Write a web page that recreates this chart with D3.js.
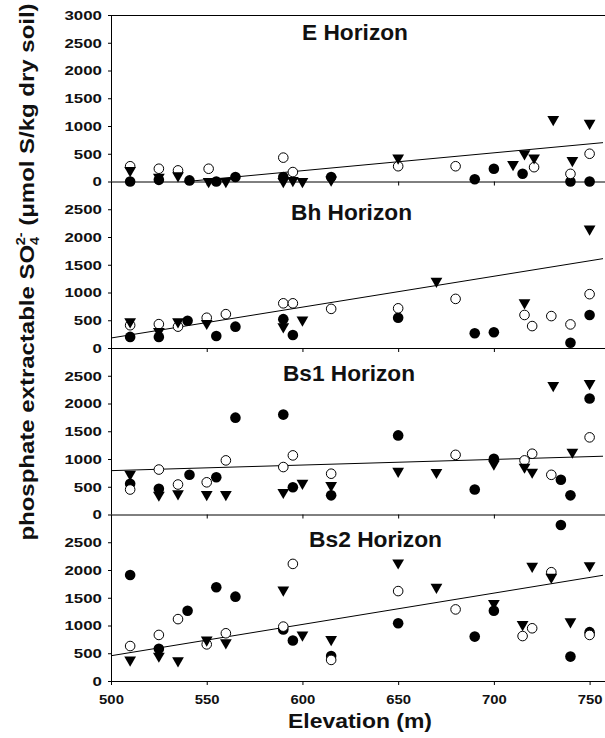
<!DOCTYPE html>
<html>
<head>
<meta charset="utf-8">
<script src="https://cdn.jsdelivr.net/npm/d3@7"></script>
<style>
    body { margin: 0; background: #fff; }
    svg { display: block; font-family: 'Liberation Sans', Arial, sans-serif; }
</style>
</head>
<body>
<div class="container"></div>
<script>
const horizons = ['E Horizon', 'Bh Horizon', 'Bs1 Horizon', 'Bs2 Horizon'];
const xTicks = [500, 550, 600, 650, 700, 750];
const yTicksTop = [0, 500, 1000, 1500, 2000, 2500, 3000];
const yTicks = [0, 500, 1000, 1500, 2000, 2500];

// [elevation m, SO4 umol S/kg]
const eFilled = [[510, 0], [525, 30], [541, 20], [555, 0], [565, 80], [590, 80], [615, 80], [690, 40], [700, 230], [715, 140], [740, 0], [750, 0]];
const eOpen = [[510, 275], [525, 230], [535, 200], [551, 230], [590, 430], [595, 170], [650, 275], [680, 275], [721, 258], [740, 138], [750, 500]];
const eTri = [[510, 200], [525, 80], [535, 105], [551, 0], [560, 0], [590, 0], [595, 20], [600, 0], [615, 30], [650, 425], [710, 306], [716, 500], [721, 427], [731, 1117], [741, 380], [750, 1050]];

const bhFilled = [[510, 200], [525, 200], [540, 490], [555, 215], [565, 385], [590, 520], [595, 235], [650, 545], [690, 265], [700, 285], [740, 95], [750, 595]];
const bhOpen = [[510, 410], [525, 430], [535, 385], [550, 545], [560, 610], [590, 805], [595, 805], [615, 705], [650, 715], [680, 885], [716, 595], [720, 395], [730, 575], [740, 425], [750, 970]];
const bhTri = [[510, 475], [525, 300], [535, 475], [550, 445], [590, 385], [600, 505], [670, 1205], [716, 815], [750, 2145]];

const bs1Filled = [[510, 555], [525, 465], [541, 715], [555, 670], [565, 1745], [590, 1800], [595, 490], [615, 345], [650, 1425], [690, 450], [700, 1005], [735, 625], [740, 345], [750, 2090]];
const bs1Open = [[510, 450], [525, 810], [535, 540], [550, 580], [560, 975], [590, 855], [595, 1065], [615, 735], [680, 1075], [716, 975], [720, 1095], [730, 715], [750, 1390]];
const bs1Tri = [[510, 725], [525, 350], [535, 375], [550, 360], [560, 360], [590, 400], [600, 565], [615, 525], [650, 780], [670, 760], [700, 910], [716, 855], [720, 765], [731, 2325], [741, 1125], [750, 2360]];

const bs2Filled = [[510, 1910], [525, 580], [540, 1265], [555, 1690], [565, 1520], [590, 930], [595, 730], [615, 450], [650, 1040], [690, 800], [700, 1265], [735, 2810], [740, 440], [750, 880]];
const bs2Open = [[510, 630], [525, 830], [535, 1115], [550, 660], [560, 860], [590, 980], [595, 2110], [615, 380], [650, 1620], [680, 1290], [715, 810], [720, 950], [730, 1960], [750, 830]];
const bs2Tri = [[510, 380], [525, 450], [535, 365], [550, 740], [560, 690], [590, 1640], [600, 830], [615, 750], [650, 2130], [670, 1690], [700, 1400], [715, 1020], [720, 2070], [730, 1870], [740, 1070], [750, 2080]];

// regression lines, end points
const eFit = [[500, -127], [757, 700]];
const bhFit = [[500, 180], [757, 1610]];
const bs1Fit = [[500, 790], [757, 1050]];
const bs2Fit = [[500, 455], [757, 1905]];

const w = 605;
const h = 738;
const left = 111;
const right = 603;
const panelTop = 15;
const panelH = 166.5;

// where each panel title sits (left x, baseline offset from panel top, width)
const titlePos = [[302, 25, 106], [291, 38, 121], [283, 33, 132], [309, 32, 133]];

const panels = [
    { title: horizons[0], filled: eFilled, open: eOpen, tri: eTri, fit: eFit, ticks: yTicksTop },
    { title: horizons[1], filled: bhFilled, open: bhOpen, tri: bhTri, fit: bhFit, ticks: yTicks },
    { title: horizons[2], filled: bs1Filled, open: bs1Open, tri: bs1Tri, fit: bs1Fit, ticks: yTicks },
    { title: horizons[3], filled: bs2Filled, open: bs2Open, tri: bs2Tri, fit: bs2Fit, ticks: yTicks }
];

const svg = d3.select('.container')
    .append('svg')
    .attr('width', w)
    .attr('height', h)
    .attr('viewBox', [0, 0, w, h]);

svg.append('rect').attr('width', w).attr('height', h).attr('fill', '#fff');

const x = d3.scaleLinear([500, 757], [left, right]);
const triangle = d3.symbol(d3.symbolTriangle, 60);

// the figure's lettering is a bit wider than Arial
function widen(sel, k) {
    sel.each(function () {
        const len = this.getComputedTextLength();
        d3.select(this)
            .attr('textLength', len * k)
            .attr('lengthAdjust', 'spacingAndGlyphs');
    });
}

panels.forEach((p, i) => {
    const top = panelTop + i * panelH;
    const y = d3.scaleLinear([0, 3000], [top + panelH, top]);
    const g = svg.append('g');

    g.append('clipPath')
        .attr('id', 'clip' + i)
        .append('rect')
        .attr('x', left)
        .attr('y', top)
        .attr('width', right - left)
        .attr('height', panelH);

    // zero line with small ticks downward
    g.append('g')
        .attr('transform', `translate(0, ${y(0)})`)
        .call(d3.axisBottom(x).tickValues(i === 3 ? xTicks : xTicks.slice(1, 5)).tickSize(4).tickFormat(i === 3 ? d3.format('d') : ''))
        .call(a => a.select('.domain').attr('d', `M${left},0.5H${w}`))
        .call(a => a.selectAll('text')
            .attr('dy', '1.15em')
            .style('font-size', '13.5px')
            .style('font-weight', 'bold')
            .attr('fill', '#111')
            .call(widen, 1.1));

    g.append('g')
        .attr('transform', `translate(${left}, 0)`)
        .call(d3.axisLeft(y).tickValues(p.ticks).tickSize(3).tickPadding(6).tickFormat(d3.format('d')))
        .call(a => a.select('.domain').attr('d', `M0.5,${top}V${top + panelH}`))
        .call(a => a.selectAll('text')
            .style('font-size', '13.5px')
            .style('font-weight', 'bold')
            .attr('fill', '#111')
            .call(widen, 1.25));

    if (i === 0) {
        g.append('line')
            .attr('x1', left).attr('x2', w)
            .attr('y1', top + 0.5).attr('y2', top + 0.5)
            .attr('stroke', '#000');
    }

    g.append('path')
        .datum(p.fit)
        .attr('clip-path', `url(#clip${i})`)
        .attr('fill', 'none')
        .attr('stroke', '#000')
        .attr('stroke-width', 1)
        .attr('d', d3.line(d => x(d[0]), d => y(d[1])));

    g.append('g')
        .selectAll('circle')
        .data(p.filled)
        .join('circle')
        .attr('cx', d => x(d[0]))
        .attr('cy', d => y(d[1]))
        .attr('r', 5.3)
        .attr('fill', '#000');

    g.append('g')
        .selectAll('circle')
        .data(p.open)
        .join('circle')
        .attr('cx', d => x(d[0]))
        .attr('cy', d => y(d[1]))
        .attr('r', 4.8)
        .attr('fill', '#fff')
        .attr('stroke', '#000')
        .attr('stroke-width', 1);

    g.append('g')
        .selectAll('path')
        .data(p.tri)
        .join('path')
        .attr('transform', d => `translate(${x(d[0])}, ${y(d[1])}) rotate(180)`)
        .attr('d', triangle)
        .attr('fill', '#000');

    svg.append('text')
        .attr('x', titlePos[i][0])
        .attr('y', top + titlePos[i][1])
        .attr('textLength', titlePos[i][2])
        .attr('lengthAdjust', 'spacingAndGlyphs')
        .style('font-size', '22px')
        .style('font-weight', 'bold')
        .attr('fill', '#111')
        .text(p.title);
});

svg.append('text')
    .attr('x', 360)
    .attr('y', 728)
    .attr('text-anchor', 'middle')
    .attr('textLength', 144)
    .attr('lengthAdjust', 'spacingAndGlyphs')
    .style('font-size', '21px')
    .style('font-weight', 'bold')
    .attr('fill', '#111')
    .text('Elevation (m)');

// y title with SO4 2- sub/superscript
const yTitle = svg.append('text')
    .attr('transform', 'translate(34, 272) rotate(-90)')
    .attr('text-anchor', 'middle')
    .style('font-size', '20px')
    .style('font-weight', 'bold')
    .attr('fill', '#111');
yTitle.append('tspan').text('phosphate extractable SO');
yTitle.append('tspan').attr('dy', 5).style('font-size', '12px').text('4');
yTitle.append('tspan').attr('dx', -7).attr('dy', -14).style('font-size', '12px').text('2-');
yTitle.append('tspan').attr('dy', 9).text(' (\u03bcmol S/kg dry soil)');
widen(yTitle, 1.18);
</script>
</body>
</html>
